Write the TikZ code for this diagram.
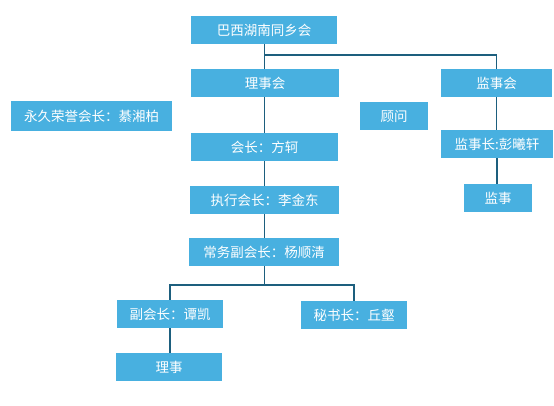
\documentclass[tikz,border=0pt]{standalone}
\usepackage{fontspec}
\setmainfont{Noto Sans CJK SC}
\definecolor{boxblue}{HTML}{48B0E0}
\definecolor{linecol}{HTML}{1D5F7E}
\begin{document}
\begin{tikzpicture}[x=1pt,y=-1pt,
  box/.style={fill=boxblue,text=white,minimum height=28pt,inner sep=0pt,font=\fontsize{13.5pt}{15pt}\selectfont},
  conn/.style={draw=linecol,line width=1.3pt}]
\useasboundingbox (0,0) rectangle (554,406);
\node[box,minimum width=146pt] (top) at (264,30) {巴西湖南同乡会};
\node[box,minimum width=148pt] (lsh) at (265,83) {理事会};
\node[box,minimum width=111pt] (jsh) at (496.5,83) {监事会};
\node[box,minimum width=161pt,minimum height=30pt] (ry) at (91.5,116) {永久荣誉会长：綦湘柏};
\node[box,minimum width=68pt] (gw) at (394,116) {顾问};
\node[box,minimum width=147pt] (hz) at (264.5,147) {会长：方轲};
\node[box,minimum width=149pt] (zx) at (264.5,200) {执行会长：李金东};
\node[box,minimum width=150pt] (cw) at (264,252) {常务副会长：杨顺清};
\node[box,minimum width=112pt] (jsz) at (497,144) {监事长:彭曦轩};
\node[box,minimum width=68pt] (js) at (498,198) {监事};
\node[box,minimum width=106pt] (fhz) at (170,314) {副会长：谭凯};
\node[box,minimum width=106pt] (msz) at (354,315) {秘书长：丘壑};
\node[box,minimum width=106pt] (ls) at (169,367) {理事};
\coordinate (b1) at (264.7,55);
\coordinate (b2) at (264.7,285);
\draw[conn] (top.south -| b1) -- (lsh.north -| b1);
\draw[conn] (b1) -| (jsh.north);
\draw[conn] (lsh.south -| b1) -- (hz.north -| b1);
\draw[conn] (hz.south -| b1) -- (zx.north -| b1);
\draw[conn] (zx.south -| b1) -- (cw.north -| b1);
\draw[conn] (cw.south -| b1) -- (b2);
\draw[conn] (fhz.north) |- (b2) -| (msz.north);
\draw[conn] (fhz.south) -- (fhz.south |- ls.north);
\draw[conn] (jsh.south) -- (jsh.south |- jsz.north);
\draw[conn] (jsz.south) -- (jsz.south |- js.north);
\end{tikzpicture}
\end{document}
